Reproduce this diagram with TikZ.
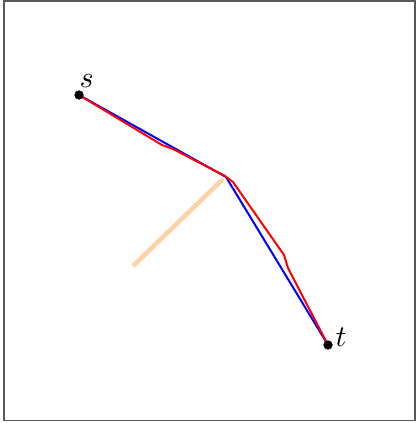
\documentclass[tikz,border=0pt]{standalone}
\begin{document}
\begin{tikzpicture}[x=1pt,y=-1pt,
  dot/.style={circle,fill=black,inner sep=0pt,minimum size=9pt},
  lbl/.style={scale=3,inner sep=0pt,anchor=base west},
  pathline/.style={line width=2pt,line join=round}]
\useasboundingbox (0,0) rectangle (416,423);
\draw[line width=1.3pt,black!65] (4,1) rectangle (415,420.5);
\node[dot] (s) at (79,95) {};
\node[dot] (t) at (328,345) {};
\node[lbl] (sl) at (79,87) {$s$};
\node[lbl] (tl) at (335,346) {$t$};
\coordinate (a) at (226,177);
\coordinate (o) at (133,266);
\coordinate (oa) at (223,179);
\draw[line width=4.5pt,orange!35] (o) -- (oa);
\draw[pathline,blue] (s.center) -- (a) -- (t.center);
\draw[pathline,red] (s.center) -- (162,145) -- (173,149) -- (225,176) -- (233,182) -- (284,255) -- (288,268) -- (t.center);
\node[dot] at (s) {};
\node[dot] at (t) {};
\end{tikzpicture}
\end{document}
